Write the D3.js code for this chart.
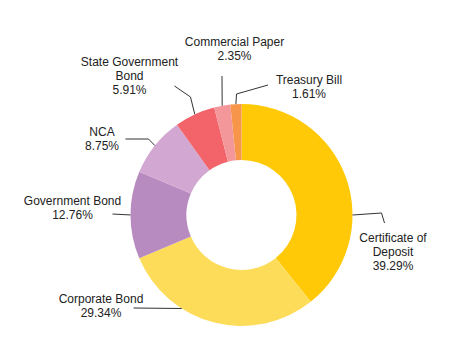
<!DOCTYPE html>
<html>
<head>
<meta charset="utf-8">
<script src="https://cdn.jsdelivr.net/npm/d3@7"></script>
<style>
  html, body { margin: 0; padding: 0; background: #fff; }
  svg text { font-family: "Liberation Sans", Arial, sans-serif; font-size: 12px; fill: #222; }
</style>
</head>
<body>
<svg id="chart" width="457" height="348"></svg>
<script>
// ---- data ----
const categories = ["Certificate of Deposit", "Corporate Bond", "Government Bond", "NCA",
                    "State Government Bond", "Commercial Paper", "Treasury Bill"];
const labelLines = [["Certificate of", "Deposit"], ["Corporate Bond"], ["Government Bond"], ["NCA"],
                    ["State Government", "Bond"], ["Commercial Paper"], ["Treasury Bill"]];
const values = [39.29, 29.34, 12.76, 8.75, 5.91, 2.35, 1.61];
const colors = ["#FFC907", "#FCDC58", "#B88BC0", "#D2A8D2", "#F2646A", "#F4979B", "#F7964B"];

// ---- layout (label placement, relative to chart centre) ----
const cx = 241.5, cy = 215, outerR = 111, innerR = 55;
// anchorDeg: where the leader leaves the ring (null = slice middle);
// elbow / end: leader bend points; text: label centre x and first baseline
const labelLayout = [
  { anchorDeg: 90,   elbow: [140, -2],  end: [143, 8],   text: [151.5, 27] },
  { anchorDeg: 212.6, elbow: null,      end: [-108, 93], text: [-140.5, 88] },
  { anchorDeg: null, elbow: null,       end: [-129, -1], text: [-169, -10] },
  { anchorDeg: null, elbow: [-93, -76], end: [-116, -76], text: [-139.5, -79] },
  { anchorDeg: null, elbow: [-51, -118], end: [-67, -129], text: [-112, -149] },
  { anchorDeg: null, elbow: null,       end: [-19.5, -139], text: [-7, -169] },
  { anchorDeg: null, elbow: [-5, -121], end: [26.5, -130], text: [67.5, -131] }
];

const svg = d3.select("#chart");
const g = svg.append("g").attr("transform", `translate(${cx},${cy})`);

const pie = d3.pie().sort(null).value(d => d);
const arcs = pie(values);
const arc = d3.arc().innerRadius(innerR).outerRadius(outerR);

g.selectAll("path.slice")
  .data(arcs)
  .enter().append("path")
  .attr("class", "slice")
  .attr("d", arc)
  .attr("fill", (d, i) => colors[i]);

const toRad = deg => deg * Math.PI / 180;
arcs.forEach((a, i) => {
  const L = labelLayout[i];
  const ang = L.anchorDeg == null ? (a.startAngle + a.endAngle) / 2 : toRad(L.anchorDeg);
  const start = [outerR * Math.sin(ang), -outerR * Math.cos(ang)];
  const pts = [start];
  if (L.elbow) pts.push(L.elbow);
  pts.push(L.end);
  g.append("path")
    .attr("d", d3.line()(pts))
    .attr("fill", "none")
    .attr("stroke", "#333")
    .attr("stroke-width", 1);

  const lines = labelLines[i].concat([values[i].toFixed(2) + "%"]);
  const t = g.append("text")
    .attr("text-anchor", "middle")
    .attr("x", L.text[0])
    .attr("y", L.text[1]);
  lines.forEach((s, k) => {
    t.append("tspan").attr("x", L.text[0]).attr("dy", k === 0 ? 0 : 14).text(s);
  });
});
</script>
</body>
</html>
